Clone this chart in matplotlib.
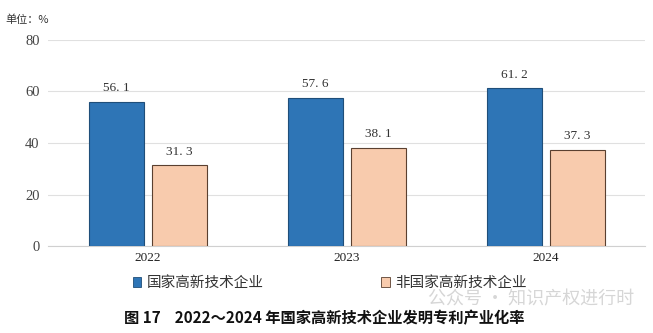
import matplotlib
matplotlib.use("Agg")
import matplotlib.pyplot as plt
from matplotlib.patches import Patch
import numpy as np

years = ["2022", "2023", "2024"]
high_tech = [56.1, 57.6, 61.2]
non_high_tech = [31.3, 38.1, 37.3]
series_names = ["国家高新技术企业", "非国家高新技术企业"]
yticks = [0, 20, 40, 60, 80]

serif = ["Liberation Serif", "Noto Sans CJK SC"]
cjk = ["Noto Sans CJK SC", "DejaVu Sans"]

fig = plt.figure(figsize=(6.53, 3.33), dpi=100)
ax = fig.add_axes([0.0735, 0.261, 0.915, 0.619])

x = np.arange(len(years))
w = 0.276
off = 0.158
b1 = ax.bar(x - off, high_tech, w, color="#2E75B6", edgecolor="#1F4E79", linewidth=0.8, zorder=3)
b2 = ax.bar(x + off, non_high_tech, w, color="#F8CBAD", edgecolor="#5A4030", linewidth=0.8, zorder=3)

for bars, vals in ((b1, high_tech), (b2, non_high_tech)):
    for r, v in zip(bars, vals):
        ax.text(r.get_x() + r.get_width() / 2, v + 3, f"{v:.1f}".replace(".", ". "),
                ha="center", va="bottom", fontsize=9.5, family=serif, color="#333333")

ax.set_xlim(-0.5, 2.5)
ax.set_ylim(0, 80)
ax.set_yticks(yticks)
ax.set_yticklabels([str(t) for t in yticks], family=serif, fontsize=10.5, color="#444444")
ax.set_xticks(x)
ax.set_xticklabels(years, family=serif, fontsize=9.5, color="#222222")
ax.tick_params(length=0, pad=6)
ax.tick_params(axis="x", pad=4)
ax.yaxis.grid(True, color="#E0E0E0", linewidth=0.8, zorder=0)
for s in ["top", "right", "left"]:
    ax.spines[s].set_visible(False)
ax.spines["bottom"].set_color("#D0D0D0")

fig.text(0.008, 0.94, "单位：%", family=cjk, fontsize=8, color="#333333", ha="left", va="center")

handles = [Patch(facecolor="#2E75B6", edgecolor="#1F4E79", linewidth=0.6),
           Patch(facecolor="#F8CBAD", edgecolor="#5A4030", linewidth=0.6)]
leg = fig.legend(handles, series_names, loc="center", bbox_to_anchor=(0.505, 0.15), ncol=2,
                 frameon=False, prop={"family": cjk, "size": 10.5}, handlelength=0.6, handleheight=0.6,
                 handletextpad=0.4, columnspacing=8.0)
for t in leg.get_texts():
    t.set_color("#333333")

fig.text(0.19, 0.045, "图 17    2022～2024 年国家高新技术企业发明专利产业化率", family=cjk,
         fontsize=11, fontweight="bold", ha="left", va="center", color="#111111")
fig.text(0.655, 0.1, "公众号 · 知识产权进行时", family=cjk, fontsize=13, color="#BBBBBB",
         alpha=0.6, ha="left", va="center")

fig.savefig("out.png", dpi=100)
